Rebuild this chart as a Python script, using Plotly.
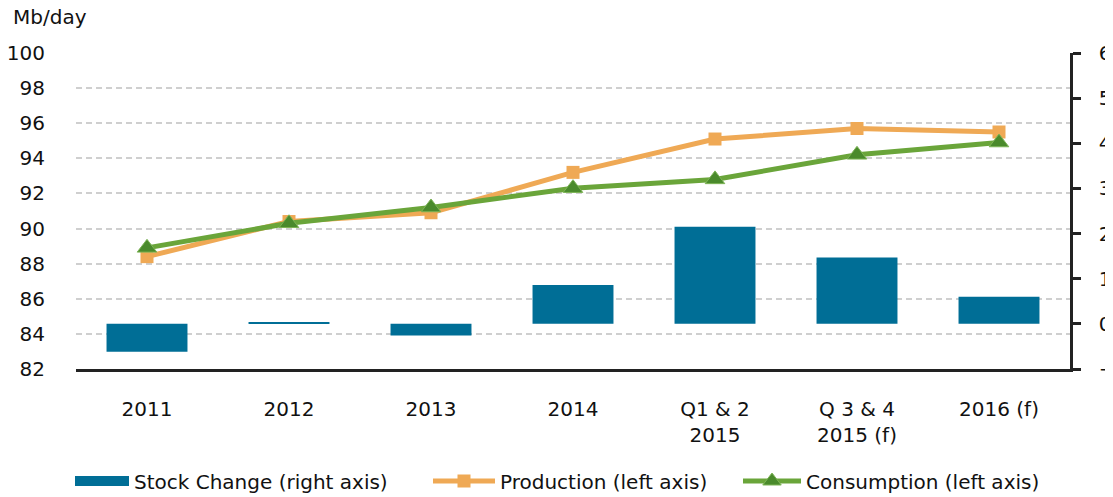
import plotly.graph_objects as go

categories = ["2011", "2012", "2013", "2014", "Q1 & 2<br>2015", "Q 3 & 4<br>2015 (f)", "2016 (f)"]
stock_change = [-0.62, 0.04, -0.26, 0.86, 2.15, 1.47, 0.6]
production = [88.4, 90.4, 90.9, 93.2, 95.1, 95.7, 95.5]
consumption = [88.9, 90.3, 91.2, 92.3, 92.8, 94.2, 94.9]

FONT = "DejaVu Sans"
BLUE = "#006E96"
ORANGE = "#EFA955"
GREEN = "#6AA53A"

# page offset of the plot div (default body margin)
OFF = 8
# plot-area geometry in page pixels
L, R, T, B = 76, 1070, 53, 369
W, H = R - L, B - T
FIG_W, FIG_H = 1113 - OFF, 497 - OFF


def px_x(p):
    return (p - L) / W


def px_y(p):
    return (B - p) / H


fig = go.Figure()
fig.add_trace(go.Bar(
    x=categories, y=stock_change, name="Stock Change (right axis)",
    marker=dict(color=BLUE, line=dict(width=0)), width=0.57, yaxis="y",
    showlegend=False,
))
# legend entry for the bars (wide rectangle swatch)
fig.add_trace(go.Scatter(
    x=[None], y=[None], mode="lines", name="Stock Change (right axis)",
    line=dict(color=BLUE, width=13), legend="legend", yaxis="y",
))
fig.add_trace(go.Scatter(
    x=categories, y=production, name="Production (left axis)", mode="lines+markers",
    line=dict(color=ORANGE, width=5),
    marker=dict(symbol="square", size=13, color=ORANGE), yaxis="y2", legend="legend2",
))
fig.add_trace(go.Scatter(
    x=categories, y=consumption, name="Consumption (left axis)", mode="lines+markers",
    line=dict(color=GREEN, width=5),
    marker=dict(symbol="triangle-up", size=17, color="#4A8A2C",
                line=dict(color="#7DB456", width=1)), yaxis="y2", legend="legend3",
))

leg_common = dict(orientation="h", yanchor="middle", y=px_y(481), xanchor="left",
                  font=dict(size=20, family=FONT, color="#111111"),
                  bgcolor="rgba(0,0,0,0)")

fig.update_layout(
    width=FIG_W, height=FIG_H,
    margin=dict(l=L - OFF, r=FIG_W - (R - OFF), t=T - OFF, b=FIG_H - (B - OFF),
                autoexpand=False),
    paper_bgcolor="white", plot_bgcolor="white",
    font=dict(family=FONT, size=20, color="#111111"),
    showlegend=True,
    legend=dict(x=px_x(70), itemwidth=54, **leg_common),
    legend2=dict(x=px_x(428), itemwidth=62, **leg_common),
    legend3=dict(x=px_x(738), itemwidth=58, **leg_common),
    xaxis=dict(
        type="category", showline=True, linecolor="#222222", linewidth=2.5,
        showgrid=False, ticks="", ticklabelstandoff=20, tickfont=dict(size=20),
        automargin=False,
    ),
    yaxis=dict(
        side="right", range=[-1, 6], dtick=1, showgrid=False, zeroline=False,
        showline=True, linecolor="#222222", linewidth=2.5,
        ticks="outside", ticklen=8, tickwidth=2.5, tickcolor="#222222",
        ticklabelstandoff=14, tickfont=dict(size=20), automargin=False,
    ),
    yaxis2=dict(
        side="left", overlaying="y", range=[82, 100], dtick=2,
        showgrid=True, gridcolor="#CFCFCF", gridwidth=1.5, griddash="6px,4px",
        zeroline=False, showline=False, ticks="", ticklabelstandoff=30,
        tickfont=dict(size=20), automargin=False,
    ),
    annotations=[dict(
        text="Mb/day", xref="paper", yref="paper", x=px_x(11), y=px_y(17),
        xanchor="left", yanchor="middle", showarrow=False, font=dict(size=20),
    )],
)

fig.write_html("out.html")
